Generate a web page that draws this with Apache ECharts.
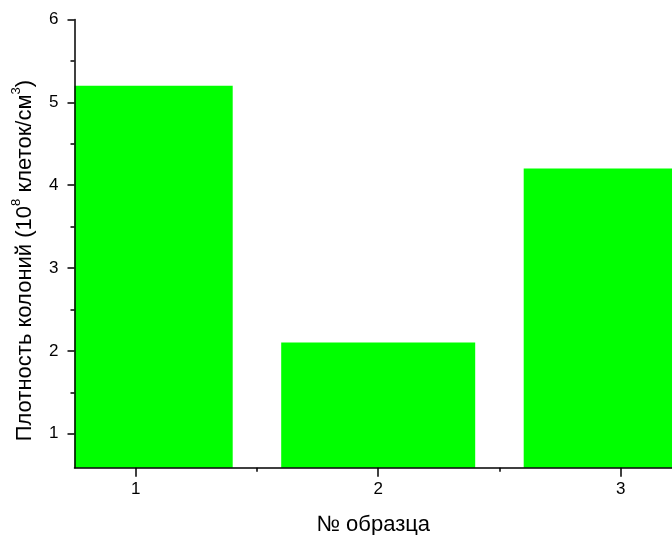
<!DOCTYPE html>
<html>
<head>
<meta charset="utf-8">
<script src="https://cdn.jsdelivr.net/npm/echarts@6/dist/echarts.min.js"></script>
<style>
html,body{margin:0;padding:0;background:#fff;}
#c{width:672px;height:535px;}
</style>
</head>
<body>
<div id="c"></div>
<script>
// Data
const samples = [1, 2, 3];
const densities = [5.2, 2.1, 4.2];
const yTicks = [1, 2, 3, 4, 5, 6];
const yMinorTicks = [1.5, 2.5, 3.5, 4.5, 5.5];
const xMinorTicks = [1.5, 2.5];
const xTitle = '№ образца';

const chart = echarts.init(document.getElementById('c'), null, {renderer: 'canvas'});
const font = '"Liberation Sans", Arial, sans-serif';
const xMin = 0.7476, xMax = 3.2116, yMin = 0.59, yMax = 6;
const barFrac = 0.8;

const axisBase = {
  axisLine: {show: true, lineStyle: {color: '#000', width: 1.5}},
  splitLine: {show: false}
};

chart.setOption({
  animation: false,
  grid: {left: 74.5, right: 0, top: 19.5, bottom: 67.3, containLabel: false, outerBoundsMode: 'none'},
  xAxis: [
    Object.assign({}, axisBase, {
      type: 'value', min: xMin, max: xMax, position: 'bottom',
      axisTick: {show: true, customValues: samples, length: 9, lineStyle: {color: '#000', width: 1.5}},
      axisLabel: {show: true, customValues: samples, margin: 13, fontSize: 17, color: '#000', fontFamily: font},
      name: xTitle, nameLocation: 'middle', nameGap: 46,
      nameTextStyle: {fontSize: 22, color: '#000', fontFamily: font},
      z: 5
    }),
    {
      type: 'value', min: xMin, max: xMax, position: 'bottom',
      axisLine: {show: false}, splitLine: {show: false},
      axisTick: {show: true, customValues: xMinorTicks, length: 4, lineStyle: {color: '#000', width: 1.5}},
      axisLabel: {show: false}, z: 5
    }
  ],
  yAxis: [
    Object.assign({}, axisBase, {
      type: 'value', min: yMin, max: yMax, position: 'left',
      axisTick: {show: true, customValues: yTicks, length: 7, lineStyle: {color: '#000', width: 1.5}},
      axisLabel: {show: true, customValues: yTicks, margin: 16, fontSize: 17, color: '#000', fontFamily: font,
                  align: 'right', verticalAlign: 'middle', hideOverlap: false},
      name: '{m|Плотность колоний (10}{s|8}{m| клеток/см}{s|3}{m|)}',
      nameLocation: 'middle', nameGap: 39, nameRotate: 90,
      nameTextStyle: {
        color: '#000', fontFamily: font, fontSize: 22,
        padding: [0, 34, 0, 0],
        rich: {
          m: {fontSize: 22, fontFamily: font, color: '#000', lineHeight: 26, verticalAlign: 'bottom'},
          s: {fontSize: 13, fontFamily: font, color: '#000', lineHeight: 26, verticalAlign: 'top', padding: [0, 0, 12, 0]}
        }
      },
      z: 5
    }),
    {
      type: 'value', min: yMin, max: yMax, position: 'left',
      axisLine: {show: false}, splitLine: {show: false},
      axisTick: {show: true, customValues: yMinorTicks, length: 4, lineStyle: {color: '#000', width: 1.5}},
      axisLabel: {show: false}, z: 5
    }
  ],
  series: [{
    type: 'custom',
    xAxisIndex: 0, yAxisIndex: 0,
    data: samples.map((s, i) => [s, densities[i]]),
    renderItem: function (params, api) {
      const x = api.value(0), y = api.value(1);
      const top = api.coord([x, y]);
      const base = api.coord([x, yMin]);
      const w = api.size([barFrac, 0])[0];
      const cs = params.coordSys;
      const rect = echarts.graphic.clipRectByRect(
        {x: top[0] - w / 2, y: top[1], width: w, height: base[1] - top[1]},
        {x: cs.x, y: cs.y, width: cs.width, height: cs.height}
      );
      if (!rect) return null;
      return {type: 'rect', shape: rect, style: {fill: '#00ff00'}};
    }
  }]
});
</script>
</body>
</html>
